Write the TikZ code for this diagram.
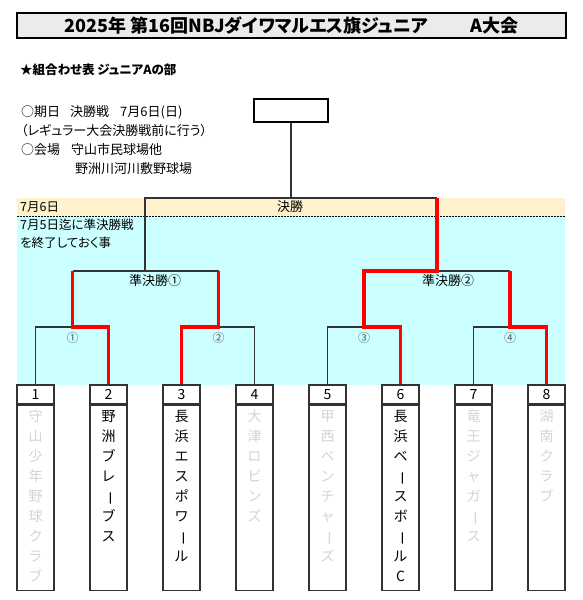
\documentclass[tikz,border=0pt]{standalone}
\usepackage{graphicx}
\usepackage{fontspec}
\setmainfont{Noto Sans CJK JP}[RawFeature=+palt]
\usepackage{tikz}
\usetikzlibrary{calc,positioning}
\definecolor{bandyellow}{HTML}{FFF2CC}
\definecolor{bandcyan}{HTML}{CCFFFF}
\definecolor{winred}{HTML}{FF0000}
\definecolor{lineink}{HTML}{333333}
\definecolor{outgray}{HTML}{D4D4D4}
\newcommand{\chouon}{\rotatebox[origin=c]{-90}{ー}}

\begin{document}
\begin{tikzpicture}[x=1pt,y=-1pt,line join=miter,
  bline/.style={lineink,line width=1.3pt},
  rline/.style={winred,line width=3.6pt},
  numbox/.style={draw=lineink,line width=1.2pt,fill=white,minimum width=37pt,
    minimum height=19pt,inner sep=0pt,font=\fontsize{14}{14}\selectfont},
  namebox/.style={draw=lineink,line width=1.2pt,minimum width=37pt,
    minimum height=185pt,inner sep=0pt},
  teamname/.style={anchor=north,align=center,inner sep=0pt,
    font=\fontsize{14}{20}\selectfont},
  info/.style={anchor=west,inner sep=0pt,font=\fontsize{13}{13}\selectfont},
  band/.style={anchor=west,inner sep=0pt,font=\fontsize{12.5}{12.5}\selectfont},
  rnd/.style={inner sep=0pt,font=\fontsize{13}{13}\selectfont},
  gno/.style={inner sep=0pt,text=black!65,font=\fontsize{12}{12}\selectfont}]
\path[use as bounding box] (0,0) rectangle (582,600);
\fill[white] (0,0) rectangle (582,600);

% 日程の帯
\fill[bandyellow] (17,198) rectangle (565,216);
\fill[bandcyan] (17,216) rectangle (565,385);
\draw[black,line width=1pt,dash pattern=on 1.5pt off 1.5pt] (17,216) -- (565,216);

% 表題
\node[draw=black,line width=1.6pt,fill=black!8,minimum width=549pt,minimum height=25pt,
  inner sep=0pt,font=\bfseries\fontsize{18}{18}\selectfont] (title) at (291.5,25.5)
  {2025年 第16回NBJダイワマルエス旗ジュニア\hspace{43pt}A大会};
\node[anchor=west,inner sep=0pt,font=\bfseries\fontsize{12.5}{12.5}\selectfont] (subttl)
  at (20,70) {★組合わせ表 ジュニアAの部};

\node[info] (date) at (21,112) {○期日\hspace{10pt}決勝戦\hspace{11pt}7月6日(日)};
\node[info] (note) at (21,131) {（レギュラー大会決勝戦前に行う）};
\node[info] (venue) at (21,150) {○会場\hspace{11pt}守山市民球場他};
\node[info] (venue2) at (75,169) {野洲川河川敷野球場};

\node[band] (day2) at (20,207) {7月6日};
\node[band] (day1a) at (20,225) {7月5日迄に準決勝戦};
\node[band] (day1b) at (20,243) {を終了しておく事};
\node[rnd] (finlbl) at (290,207) {決勝};
\node[rnd] (sf1lbl) at (155,281) {準決勝①};
\node[rnd] (sf2lbl) at (448,281) {準決勝②};

% 優勝枠
\node[draw=black,line width=1.6pt,minimum width=74pt,minimum height=23pt] (champ)
  at (291,110.5) {};

% チーム枠
\foreach \i/\tx/\tc/\tn in {
  1/35.5/outgray/{守\\山\\少\\年\\野\\球\\ク\\ラ\\ブ},
  2/108.5/black/{野\\洲\\ブ\\レ\\\chouon\\ブ\\ス},
  3/181.5/black/{長\\浜\\エ\\ス\\ポ\\ワ\\\chouon\\ル},
  4/254.5/outgray/{大\\津\\ロ\\ビ\\ン\\ズ},
  5/327.5/outgray/{甲\\西\\ベ\\ン\\チ\\ャ\\\chouon\\ズ},
  6/400.5/black/{長\\浜\\ベ\\\chouon\\ス\\ボ\\\chouon\\ル\\C},
  7/473.5/outgray/{竜\\王\\ジ\\ャ\\ガ\\\chouon\\ス},
  8/546.5/outgray/{湖\\南\\ク\\ラ\\ブ}} {
  \node[numbox] (n\i) at (\tx,394.5) {\i};
  \node[namebox,anchor=north] (b\i) at (n\i.south) {};
  \node[teamname,text=\tc] (w\i) at (\tx,410) {\tn};
}

% 組み合わせ線
\coordinate (m1) at (72.5,327);
\coordinate (m2) at (218.5,327);
\coordinate (m3) at (364,327);
\coordinate (m4) at (510,327);
\coordinate (s1) at (145,271);
\coordinate (s2) at (437,271);
\coordinate (fin) at (291,198);

\node[gno] (g1) at ($(m1)+(0,11)$) {①};
\node[gno] (g2) at ($(m2)+(0,11)$) {②};
\node[gno] (g3) at ($(m3)+(0,11)$) {③};
\node[gno] (g4) at ($(m4)+(0,11)$) {④};

\draw[bline] (n1.north) |- (m1);
\draw[bline] (n4.north) |- (m2);
\draw[bline] (n5.north) |- (m3);
\draw[bline] (n7.north) |- (m4);
\draw[bline] (m1 |- s1) -- (m2 |- s1);
\draw[bline] (s2) -- (m4 |- s2);
\draw[bline] (s1) -- (s1 |- fin) -- (s2 |- fin);
\draw[bline] (champ.south) -- (fin);

% 勝ち上がり
\draw[rline] (n2.north) |- (m1) -- (m1 |- s1);
\draw[rline] (n3.north) |- (m2) -- (m2 |- s1);
\draw[rline] (n6.north) |- (m3) -- (m3 |- s2) -- (s2) -- (s2 |- fin);
\draw[rline] (n8.north) |- (m4) -- (m4 |- s2);
\end{tikzpicture}
\end{document}
